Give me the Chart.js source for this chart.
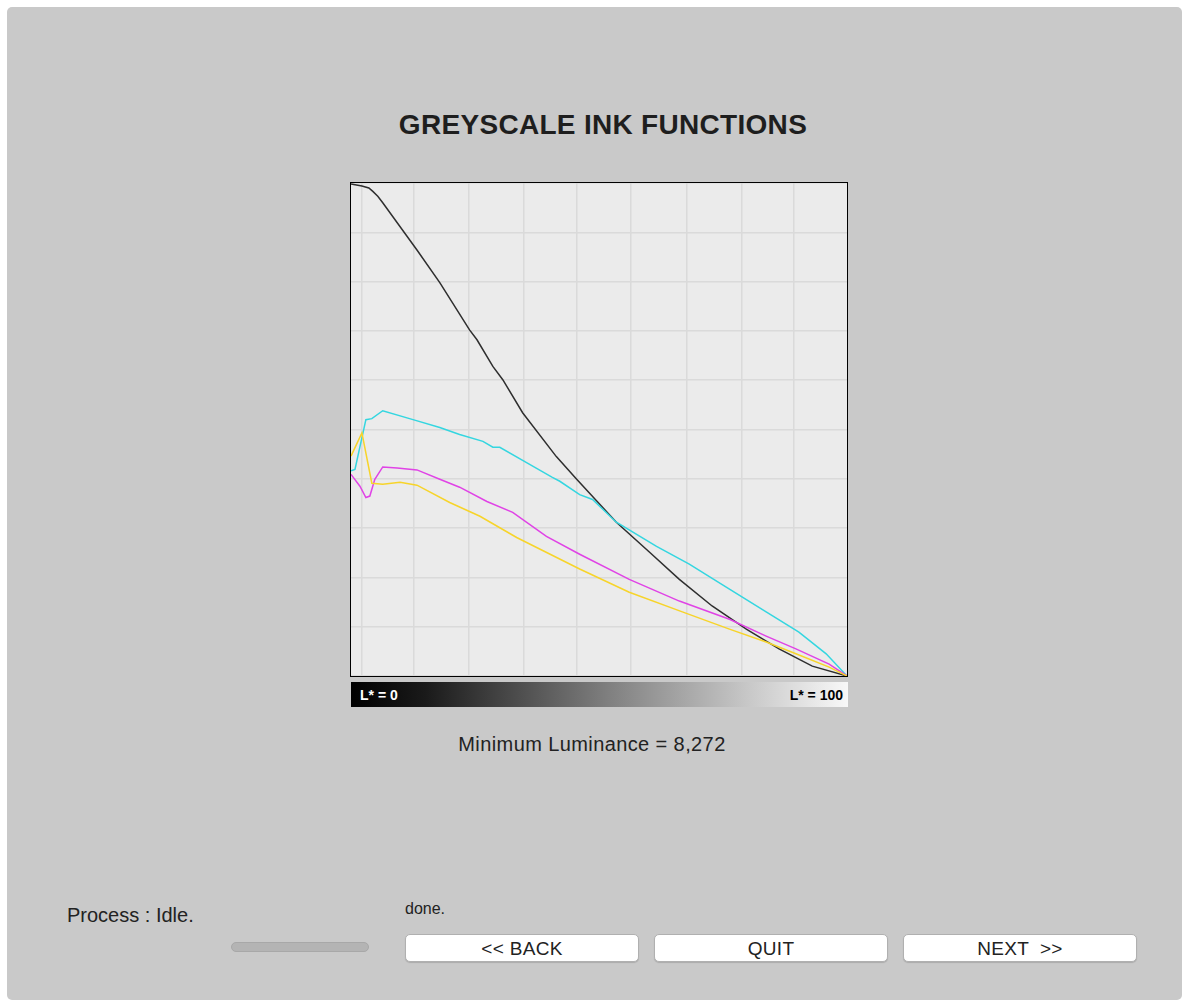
<!DOCTYPE html>
<html>
<head>
<meta charset="utf-8">
<script src="https://cdn.jsdelivr.net/npm/chart.js@4"></script>
<style>
  body { margin: 0; width: 1182px; height: 1002px; background: #fff; position: relative; overflow: hidden;
         font-family: "Liberation Sans", Arial, sans-serif; color: #222; }
  #panel { position: absolute; left: 7px; top: 7px; width: 1175px; height: 993px; background: #c9c9c9; border-radius: 5px; }
  .abs { position: absolute; }
  #title { left: 0; width: 1206px; top: 109px; text-align: center; font-weight: bold; font-size: 28px; letter-spacing: 0.3px; color: #1e1e1e; }
  #plot { left: 350px; top: 182px; width: 496px; height: 493px; border: 1.5px solid #000; background: #ebebeb; }
  #ramp { left: 351px; top: 682px; width: 497px; height: 25px; background: linear-gradient(to right, #000 0%, #1a1a1a 15%, #808080 52%, #c8c8c8 80%, #f8f8f8 100%); }
  .rl { top: 5px; font-weight: bold; font-size: 14px; }
  #minlum { left: 0; width: 1184px; top: 733px; text-align: center; font-size: 20px; letter-spacing: 0.4px; }
  #proc { left: 67px; top: 904px; font-size: 20px; }
  #done { left: 405px; top: 900px; font-size: 16px; }
  #bar { left: 231px; top: 942px; width: 136px; height: 8px; background: #b4b4b4; border: 1px solid #a8a8a8; border-radius: 5px; }
  .btn { top: 934px; width: 232px; height: 26px; background: #fff; border: 1px solid #b0b0b0; border-radius: 5px;
         text-align: center; font-size: 19px; line-height: 27px; letter-spacing: 0.3px; box-shadow: 0 1px 1px rgba(0,0,0,0.15); }
</style>
</head>
<body>
<div id="panel"></div>
<div id="title" class="abs">GREYSCALE INK FUNCTIONS</div>
<div id="plot" class="abs"><canvas id="chart"></canvas></div>
<div id="ramp" class="abs">
  <span class="abs rl" style="left:9px;color:#fff;">L* = 0</span>
  <span class="abs rl" style="right:5px;color:#000;">L* = 100</span>
</div>
<div id="minlum" class="abs">Minimum Luminance = 8,272</div>
<div id="proc" class="abs">Process : Idle.</div>
<div id="done" class="abs">done.</div>
<div id="bar" class="abs"></div>
<div class="abs btn" style="left:405px;">&lt;&lt; BACK</div>
<div class="abs btn" style="left:654px;">QUIT</div>
<div class="abs btn" style="left:903px;">NEXT &nbsp;&gt;&gt;</div>

<script>
// L* positions of the vertical grid lines
const gridL = [2.2, 12.7, 23.7, 34.8, 45.5, 56.5, 67.6, 78.7, 89.3];

// black ink
const blackL = [0, 2.2, 3.6, 4.4, 5.4, 6.4, 13.3, 17.9, 23.9, 25.4, 28.6, 30.6, 34.6, 41.4, 45.5, 53.5, 60.2, 66.2, 72.8, 79.7, 86.3, 93.0, 100];
const blackInk = [99.8, 99.4, 99.0, 98.3, 97.3, 96.0, 86.4, 79.8, 70.2, 68.2, 62.8, 60.1, 53.4, 44.5, 39.9, 31.2, 25.1, 19.6, 14.2, 9.5, 5.5, 2.0, 0];

// cyan ink
const cyanL = [0, 0.8, 3.0, 4.2, 6.4, 12.5, 17.9, 21.9, 26.6, 28.6, 30.0, 35.4, 40.6, 42.1, 46.1, 48.7, 53.5, 61.6, 68.2, 76.3, 83.7, 90.3, 95.8, 100];
const cyanInk = [41.6, 41.9, 52.0, 52.2, 53.8, 52.0, 50.4, 49.0, 47.6, 46.4, 46.4, 43.3, 40.3, 39.5, 36.8, 35.8, 31.2, 26.3, 22.7, 17.6, 13.0, 8.9, 4.5, 0];

// magenta ink
const magentaL = [0, 1.8, 3.0, 3.8, 4.8, 6.4, 9.3, 13.3, 17.9, 21.9, 27.4, 32.6, 39.4, 46.1, 56.1, 66.2, 76.3, 83.7, 89.7, 96.4, 100];
const magentaInk = [40.9, 38.5, 36.2, 36.5, 39.9, 42.4, 42.2, 41.8, 39.9, 38.3, 35.4, 33.2, 28.3, 24.7, 19.6, 15.2, 11.5, 8.1, 5.5, 2.4, 0];

// yellow ink
const yellowL = [0, 2.2, 4.2, 6.4, 9.9, 13.3, 19.9, 26.0, 33.4, 46.1, 56.1, 66.8, 76.3, 83.7, 89.7, 96.4, 100];
const yellowInk = [44.6, 49.3, 39.1, 38.9, 39.3, 38.7, 35.2, 32.4, 28.1, 21.7, 17.0, 13.0, 9.5, 6.9, 4.5, 1.8, 0];

const pts = (xs, ys) => xs.map((x, i) => ({ x: x, y: ys[i] }));

const line = (data, color) => ({
  data: data,
  borderColor: color,
  borderWidth: 1.5,
  pointRadius: 0,
  tension: 0,
  fill: false,
});

const ctx = document.getElementById("chart").getContext("2d");
new Chart(ctx, {
  type: "line",
  data: {
    datasets: [
      line(pts(yellowL, yellowInk), "#f7d42a"),
      line(pts(magentaL, magentaInk), "#e043e6"),
      line(pts(cyanL, cyanInk), "#34d6e0"),
      line(pts(blackL, blackInk), "#2e2e2e"),
    ],
  },
  options: {
    responsive: true,
    maintainAspectRatio: false,
    animation: false,
    layout: { padding: 0 },
    plugins: { legend: { display: false }, tooltip: { enabled: false } },
    scales: {
      x: {
        type: "linear",
        min: 0,
        max: 100,
        afterBuildTicks: (axis) => { axis.ticks = gridL.map((v) => ({ value: v })); },
        ticks: { display: false },
        border: { display: false },
        grid: { color: "#dadada", lineWidth: 1.5, drawTicks: false },
      },
      y: {
        min: 0,
        max: 100,
        ticks: { display: false, stepSize: 10 },
        border: { display: false },
        grid: { color: "#dadada", lineWidth: 1.5, drawTicks: false },
      },
    },
  },
});
</script>
</body>
</html>
